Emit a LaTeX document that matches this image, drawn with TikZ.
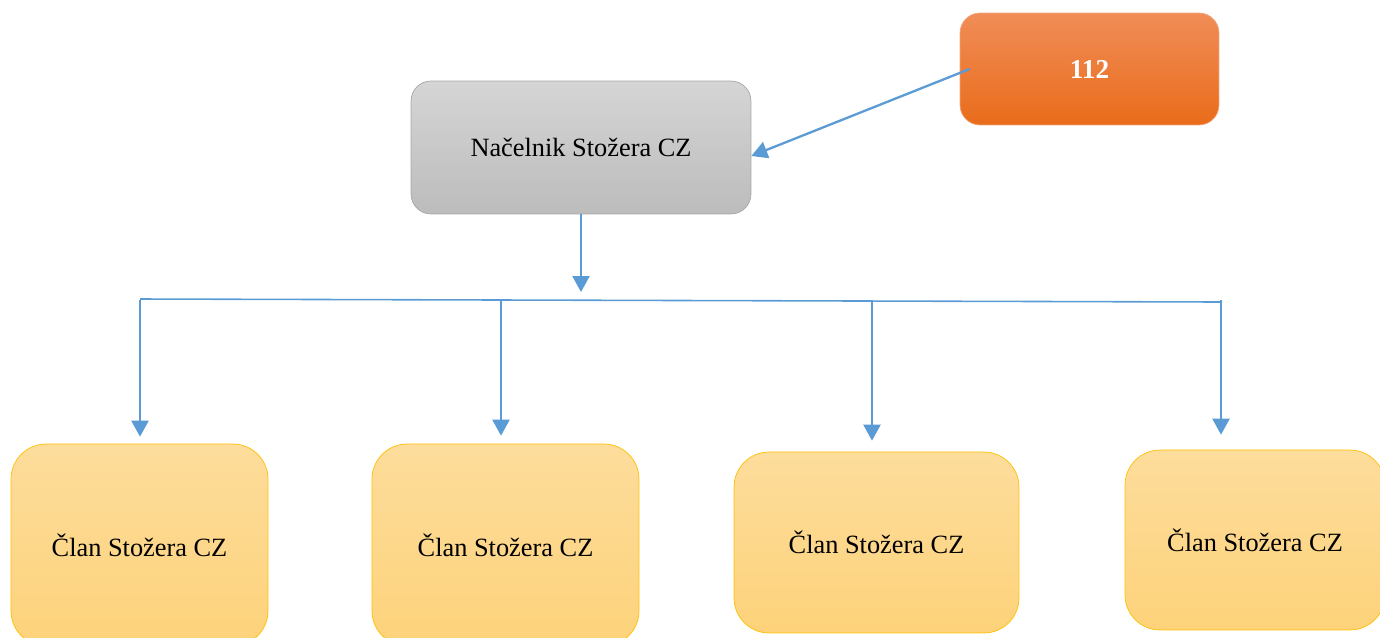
\documentclass[tikz,border=0pt]{standalone}
\usepackage{fontspec}
\setmainfont{Liberation Serif}
\usetikzlibrary{arrows.meta}
\usepackage{xcolor}
\definecolor{linkblue}{HTML}{5B9BD5}
\definecolor{chieftop}{HTML}{D5D5D5}
\definecolor{chiefbot}{HTML}{BCBCBC}
\definecolor{alarmtop}{HTML}{F08D58}
\definecolor{alarmbot}{HTML}{E96C1A}
\definecolor{membertop}{HTML}{FDDD9C}
\definecolor{memberbot}{HTML}{FDD27A}
\definecolor{memberedge}{HTML}{FFC000}

\tikzset{
  box/.style={draw, align=center, inner sep=0pt, font=\fontsize{15}{18}\selectfont},
  chief/.style={box, draw=black!35, rounded corners=0.4cm, top color=chieftop, bottom color=chiefbot,
    minimum width=6.8cm, minimum height=2.66cm},
  alarm/.style={box, draw=alarmtop!80!white, rounded corners=0.4cm, top color=alarmtop, bottom color=alarmbot,
    text=white, font=\fontsize{15.5}{18}\selectfont\bfseries, minimum width=5.18cm, minimum height=2.24cm},
  member/.style={box, draw=memberedge, rounded corners=0.7cm, top color=membertop, bottom color=memberbot},
  conn/.style={draw=linkblue, line width=1.3pt, -{Triangle[length=0.32cm,width=0.34cm]}},
  bus/.style={draw=linkblue, line width=0.9pt}
}

\begin{document}
\begin{tikzpicture}[x=0.02cm, y=-0.02cm]
  \useasboundingbox (0,0) rectangle (1380,637);

  \node[alarm] (n112) at (1089.5,69) {112};
  \node[chief] (nac) at (581,147.5) {Načelnik Stožera CZ};

  \node[member, minimum width=5.14cm, minimum height=4.04cm] (m1) at (139.5,545) {Član Stožera CZ};
  \node[member, minimum width=5.34cm, minimum height=4.04cm] (m2) at (505.5,545) {Član Stožera CZ};
  \node[member, minimum width=5.7cm, minimum height=3.62cm] (m3) at (876.5,542.5) {Član Stožera CZ};
  \node[member, minimum width=5.2cm, minimum height=3.6cm] (m4) at (1255,540) {Član Stožera CZ};

  % bus line under the chief
  \coordinate (busL) at (140,299);
  \coordinate (busR) at (1221,302);
  \draw[bus] (busL) -- (busR);

  \draw[conn] ([xshift=0.2cm]n112.west) -- ([yshift=-0.17cm]nac.east);
  \draw[conn] (nac.south) -- (nac.south |- 0,292);

  \foreach \tap/\mem/\gap in {140/m1/0.14cm, 501/m2/0.16cm, 872/m3/0.22cm, 1221/m4/0.3cm}
    \draw[conn, shorten >=\gap] (\tap,300) -- (\tap,0 |- \mem.north);
\end{tikzpicture}
\end{document}
